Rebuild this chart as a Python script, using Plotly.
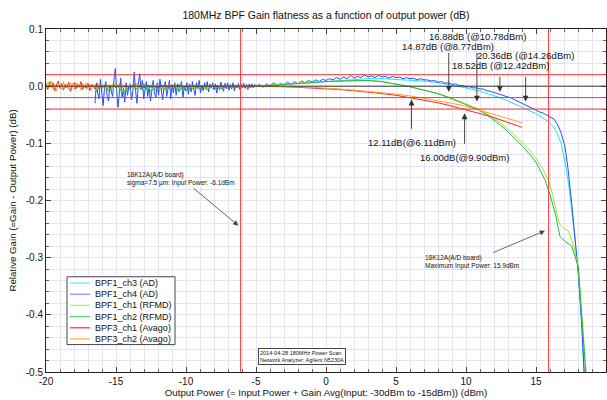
import numpy as np
import plotly.graph_objects as go

# ---------------- data ----------------
# BPF1_ch3 (AD) - cyan
cyan_noise_y = [-0.012, 0.004, -0.010, 0.006, -0.014, -0.002, 0.005, -0.008, 0.003, -0.010,
                0.002, -0.006, 0.004, -0.008, 0.001, -0.005, 0.003, -0.006, 0.002, -0.004,
                0.002, -0.003, 0.001, -0.001]
cyan_x = [-4, -3, -2, -1, 0, 1, 2, 3, 4, 5, 6, 7, 8, 9, 10, 11, 12, 12.42, 13, 14, 14.26,
          15, 15.5, 15.9, 16.2, 16.5, 16.8, 17.0, 17.2, 17.4, 17.6, 17.8, 18.02, 18.26, 18.43, 18.5]
cyan_y = [0.002, 0.003, 0.005, 0.006, 0.008, 0.010, 0.012, 0.013, 0.013, 0.012, 0.011, 0.009,
          0.006, 0.002, -0.003, -0.009, -0.016, -0.020, -0.026, -0.036, -0.040, -0.048, -0.055,
          -0.062, -0.070, -0.082, -0.100, -0.122, -0.150, -0.185, -0.225, -0.270, -0.327, -0.414,
          -0.500, -0.530]

# BPF1_ch4 (AD) - blue
blue_noise_y = [-0.030, 0.004, -0.012, -0.022, 0.012, -0.008, -0.034, -0.004, 0.008, -0.018,
                -0.026, 0.002, -0.010, -0.018, 0.010, 0.031, -0.006, -0.037, -0.012, 0.014,
                -0.020, -0.004, -0.028, 0.006, -0.016, -0.002, 0.004, -0.024, -0.010, 0.025,
                -0.008, -0.030, 0.002, 0.022, -0.006, 0.010, -0.022, -0.010, 0.008, -0.018,
                0.000, -0.026, -0.004, 0.010, -0.012, -0.020, 0.006, -0.016, 0.012, -0.008,
                -0.024, -0.002, 0.008, -0.018, -0.004, 0.010, -0.022, 0.002, -0.012, 0.006,
                -0.016, 0.004, -0.010, -0.002, 0.008, -0.020, 0.000, -0.008, 0.006, -0.014,
                0.004, -0.010, 0.008, -0.006, -0.016, 0.006, -0.004, 0.010, -0.012, 0.002,
                -0.008, 0.006, -0.004, 0.008, -0.010, 0.004, -0.002, 0.006, -0.006, 0.004,
                -0.012, 0.002, -0.006, 0.007, -0.003, -0.009, 0.005, -0.004, 0.006, -0.007,
                0.003, -0.005, 0.006, -0.008, 0.002, -0.003, 0.005, -0.006, 0.004, -0.002,
                0.005, -0.004, 0.003, -0.006, 0.004, -0.002, 0.004, -0.003, 0.003, 0.000]
blue_mid_y = [0.003, -0.002, 0.004, 0.000, 0.006, 0.001, 0.005, 0.002, 0.007, 0.003,
              0.008, 0.004, 0.009, 0.006, 0.010, 0.007, 0.011, 0.008, 0.012, 0.010,
              0.013, 0.011, 0.015, 0.012, 0.016, 0.013, 0.019, 0.014, 0.017, 0.015,
              0.020, 0.016, 0.018, 0.015, 0.019, 0.016, 0.017, 0.014, 0.017, 0.015,
              0.016, 0.013, 0.015, 0.013, 0.014, 0.011, 0.013, 0.011, 0.011, 0.009,
              0.010, 0.007, 0.008, 0.005, 0.006, 0.003, 0.004, 0.001, 0.001, -0.001]
blue_knee_y = [-0.001, -0.003, -0.003, -0.005, -0.005, -0.008, -0.009, -0.011, -0.012, -0.015,
               -0.016, -0.019, -0.021, -0.024, -0.027, -0.030, -0.034, -0.037, -0.040, -0.042,
               -0.045, -0.047, -0.050, -0.053]
blue_tail_x = [16.3, 16.6, 16.8, 17.07, 17.3, 17.55, 17.8, 18.02, 18.26, 18.43, 18.5]
blue_tail_y = [-0.058, -0.070, -0.082, -0.106, -0.147, -0.205, -0.270, -0.327, -0.414, -0.500, -0.530]

# BPF1_ch1 (RFMD) - yellow green
yg_noise_y = [-0.008, 0.003, -0.006, 0.004, -0.010, 0.001, -0.004, 0.005, -0.007, 0.002,
              -0.005, 0.003, -0.006, 0.001, -0.004, 0.002, -0.005, 0.002, -0.003, 0.001,
              -0.002, 0.002, -0.001, 0.000]
yg_x = [-4, -3, -2, -1, 0, 1, 2, 3, 4, 5, 6, 7, 8, 8.77, 9.5, 10, 10.78, 11.5, 12, 12.5, 13,
        13.5, 14, 14.5, 15, 15.5, 15.88, 16.2, 16.48, 16.71, 17.0, 17.31, 17.67, 18.02, 18.3, 18.58]
yg_y = [0.002, 0.004, 0.005, 0.007, 0.008, 0.009, 0.010, 0.010, 0.008, 0.004, -0.001, -0.007,
        -0.013, -0.019, -0.026, -0.031, -0.039, -0.048, -0.056, -0.065, -0.075, -0.086, -0.098,
        -0.111, -0.126, -0.145, -0.164, -0.190, -0.222, -0.242, -0.249, -0.253, -0.278, -0.316,
        -0.410, -0.500]

# BPF1_ch2 (RFMD) - green
green_noise_y = [-0.010, 0.002, -0.007, 0.003, -0.012, 0.000, -0.005, 0.004, -0.009, 0.001,
                 -0.006, 0.002, -0.008, 0.000, -0.005, 0.001, -0.006, 0.001, -0.004, 0.000,
                 -0.003, 0.001, -0.002, 0.000]
green_x = [-4, -3, -2, -1, 0, 1, 2, 3, 4, 5, 6, 7, 8, 8.77, 9.5, 10, 10.78, 11.5, 12, 12.5, 13,
           13.5, 14, 14.5, 15, 15.64, 16.0, 16.4, 16.71, 17.1, 17.55, 18.02, 18.3, 18.55]
green_y = [0.001, 0.003, 0.005, 0.006, 0.008, 0.009, 0.010, 0.010, 0.008, 0.004, -0.001, -0.007,
           -0.013, -0.020, -0.027, -0.032, -0.040, -0.050, -0.059, -0.069, -0.080, -0.092,
           -0.104, -0.118, -0.133, -0.164, -0.190, -0.225, -0.263, -0.272, -0.280, -0.316,
           -0.410, -0.500]

# BPF3_ch1 (Avago) - red
red_noise_a = [0.004, -0.006, 0.008, -0.002, 0.006, -0.008, 0.002, 0.009, -0.004, 0.005,
               -0.007, 0.003, -0.003, 0.007, -0.009, 0.001, 0.006, -0.005, 0.004, -0.002,
               0.008, -0.006, 0.002, -0.004, 0.005, -0.008, 0.003, 0.000, -0.005, 0.006,
               -0.003, 0.002, -0.004]
red_noise_b = [0.003, -0.004, 0.002, -0.003, 0.004, -0.002, 0.001, -0.004, 0.003, -0.001,
               0.002, -0.003, 0.002, -0.002, 0.001, -0.003, 0.002, 0.000, -0.002, 0.002,
               -0.001, 0.001, -0.002, 0.001, 0.000, -0.001, 0.002, -0.001, 0.000, 0.001,
               -0.001, 0.000, 0.001, -0.001, 0.000, 0.001, 0.000, -0.001, 0.000, 0.000,
               0.000, -0.001, 0.000, 0.000]
avago_x = [-4, -3, -2, -1, 0, 1, 2, 3, 4, 5, 6, 7, 8, 9, 10, 11, 12, 13, 14]
red_y = [-0.001, -0.001, -0.002, -0.003, -0.004, -0.006, -0.008, -0.010, -0.013, -0.016,
         -0.020, -0.024, -0.029, -0.035, -0.041, -0.048, -0.055, -0.063, -0.072]

# BPF3_ch2 (Avago) - orange
orange_noise_a = [-0.005, 0.007, -0.002, 0.009, -0.006, 0.003, -0.008, 0.005, 0.001, -0.006,
                  0.008, -0.003, 0.004, -0.007, 0.006, -0.001, -0.006, 0.007, -0.003, 0.004,
                  -0.007, 0.005, -0.002, 0.006, -0.004, 0.003, -0.006, 0.004, 0.001, -0.004,
                  0.005, -0.002, 0.003]
orange_noise_b = [-0.002, 0.003, -0.003, 0.002, -0.001, 0.003, -0.003, 0.002, -0.002, 0.003,
                  -0.002, 0.001, -0.003, 0.002, 0.000, 0.002, -0.002, 0.001, 0.002, -0.001,
                  0.001, -0.002, 0.001, 0.000, 0.001, -0.001, 0.000, 0.001, -0.001, 0.000,
                  0.001, -0.001, 0.000, 0.000, 0.001, 0.000, -0.001, 0.000, 0.000, 0.000,
                  0.000, 0.000, -0.001, 0.000]
orange_y = [-0.001, -0.001, -0.001, -0.002, -0.003, -0.005, -0.007, -0.009, -0.011, -0.014,
            -0.017, -0.021, -0.025, -0.030, -0.035, -0.042, -0.049, -0.056, -0.064]

series_names = ["BPF1_ch3 (AD)", "BPF1_ch4 (AD)", "BPF1_ch1 (RFMD)", "BPF1_ch2 (RFMD)",
                "BPF3_ch1 (Avago)", "BPF3_ch2 (Avago)"]
series_colors = ["#1ee3f2", "#2450ff", "#a6e81a", "#22b84a", "#ff2424", "#ffa31a"]
legend_colors = ["#7cf0fa", "#8ea6ff", "#c4f07a", "#6ccc8c", "#ff5050", "#ffc060"]

# reference lines and annotation values
red_hlines = [0.02, -0.02, -0.04]
black_hlines = [0.0]
red_vlines = [-6.1, 15.9]

gain_top_text = ["16.88dB (@10.78dBm)", "14.87dB (@8.77dBm)", "20.36dB (@14.26dBm)", "18.52dB (@12.42dBm)"]
gain_top_x = [10.78, 8.77, 14.26, 12.42]
gain_top_tip = [-0.027, -0.010, -0.027, -0.010]
gain_bot_text = ["12.11dB(@6.11dBm)", "16.00dB(@9.90dBm)"]
gain_bot_x = [6.11, 9.90]
gain_bot_tip = [-0.0235, -0.0475]

# ---------------- assemble series ----------------
def seg(a, b, vals):
    return list(np.linspace(a, b, len(vals)))

traces = [
    (seg(-16.5, -5, cyan_noise_y) + cyan_x, cyan_noise_y + cyan_y),
    (seg(-16.5, -5, blue_noise_y) + seg(-4.75, 10, blue_mid_y) + seg(10.25, 16, blue_knee_y) + blue_tail_x,
     blue_noise_y + blue_mid_y + blue_knee_y + blue_tail_y),
    (seg(-16.5, -5, yg_noise_y) + yg_x, yg_noise_y + yg_y),
    (seg(-16.5, -5, green_noise_y) + green_x, green_noise_y + green_y),
    (seg(-20, -16, red_noise_a) + seg(-15.75, -5, red_noise_b) + avago_x,
     red_noise_a + red_noise_b + red_y),
    (seg(-20, -16, orange_noise_a) + seg(-15.75, -5, orange_noise_b) + avago_x,
     orange_noise_a + orange_noise_b + orange_y),
]

# ---------------- geometry helpers ----------------
W, H = 607, 400
L, R, T, B = 46.0, 606.0, 28.5, 372.5
YMIN, YMAX = -0.5, 0.1


def fx(p):
    return (p - L) / (R - L)


def fy(p):
    return (B - p) / (B - T)


def data_py(y):
    return B - (y - YMIN) / (YMAX - YMIN) * (B - T)


FONT = "Liberation Sans, Arial, Helvetica, sans-serif"
GRID = "#e4e4f7"

fig = go.Figure()
for (x, y), name, col in zip(traces, series_names, series_colors):
    fig.add_trace(go.Scatter(x=x, y=y, mode="lines", name=name,
                             line=dict(color=col, width=1), showlegend=False))

shapes = []
for v in red_hlines:
    shapes.append(dict(type="line", xref="paper", x0=0, x1=1, yref="y", y0=v, y1=v,
                       line=dict(color="#ff3333", width=1)))
for v in black_hlines:
    shapes.append(dict(type="line", xref="paper", x0=0, x1=1, yref="y", y0=v, y1=v,
                       line=dict(color="#333333", width=1)))
for v in red_vlines:
    shapes.append(dict(type="line", yref="paper", y0=0, y1=1, xref="x", x0=v, x1=v,
                       line=dict(color="#ff3333", width=1)))

# legend box (drawn manually for compact MATLAB-like spacing)
lg_x0, lg_x1, lg_y0, lg_y1 = 67, 175, 277, 345
shapes.append(dict(type="rect", xref="paper", yref="paper", x0=fx(lg_x0), x1=fx(lg_x1),
                   y0=fy(lg_y1), y1=fy(lg_y0), fillcolor="white",
                   line=dict(color="#444444", width=1), layer="above"))
annotations = []
for i, (name, col) in enumerate(zip(series_names, legend_colors)):
    yy = 283.3 + i * 11.2
    shapes.append(dict(type="line", xref="paper", yref="paper", x0=fx(70), x1=fx(90),
                       y0=fy(yy), y1=fy(yy), line=dict(color=col, width=1.5), layer="above"))
    annotations.append(dict(xref="paper", yref="paper", x=fx(93), y=fy(yy), text=name,
                            showarrow=False, xanchor="left", yanchor="middle",
                            font=dict(size=9, color="#111", family=FONT)))

# gain point labels + arrows
top_label_pos = [(477.5, 36), (448, 46), (525.5, 55), (500, 65)]
top_tail_py = [51, 51, 75, 75]
for txt, (lx, ly), gx, tip, tail in zip(gain_top_text, top_label_pos, gain_top_x, gain_top_tip, top_tail_py):
    annotations.append(dict(xref="paper", yref="paper", x=fx(lx), y=fy(ly), text=txt,
                            showarrow=False, xanchor="center", yanchor="middle",
                            font=dict(size=9.5, color="#111", family=FONT)))
    annotations.append(dict(xref="x", yref="y", x=gx, y=tip, text="", showarrow=True,
                            ax=0, ay=tail - data_py(tip), arrowhead=2, arrowsize=1.3,
                            arrowwidth=0.9, arrowcolor="#333", standoff=0))
bot_label_pos = [(411.7, 142), (464, 157)]
bot_tail_py = [130, 145]
for txt, (lx, ly), gx, tip, tail in zip(gain_bot_text, bot_label_pos, gain_bot_x, gain_bot_tip, bot_tail_py):
    annotations.append(dict(xref="paper", yref="paper", x=fx(lx), y=fy(ly), text=txt,
                            showarrow=False, xanchor="center", yanchor="middle",
                            font=dict(size=9.5, color="#111", family=FONT)))
    annotations.append(dict(xref="x", yref="y", x=gx, y=tip, text="", showarrow=True,
                            ax=0, ay=tail - data_py(tip), arrowhead=2, arrowsize=1.3,
                            arrowwidth=0.9, arrowcolor="#333", standoff=0))

# board annotations
note1_tip = (-6.26, -0.244)
note2_tip = (15.64, -0.253)
annotations.append(dict(xref="paper", yref="paper", x=fx(125), y=fy(179),
                        text="18K12A(A/D board)<br>sigma=7.5 µm: Input Power: -6.1dBm",
                        showarrow=False, xanchor="left", yanchor="middle", align="left",
                        font=dict(size=6.5, color="#111", family=FONT)))
annotations.append(dict(xref="x", yref="y", x=note1_tip[0], y=note1_tip[1], text="", showarrow=True,
                        ax=192 - (L + (note1_tip[0] + 20) * 14), ay=187 - data_py(note1_tip[1]),
                        arrowhead=2, arrowsize=1.3, arrowwidth=0.8, arrowcolor="#444", standoff=0))
annotations.append(dict(xref="paper", yref="paper", x=fx(423), y=fy(262),
                        text="18K12A(A/D board)<br>Maximum Input Power: 15.9dBm",
                        showarrow=False, xanchor="left", yanchor="middle", align="left",
                        font=dict(size=6.5, color="#111", family=FONT)))
annotations.append(dict(xref="x", yref="y", x=note2_tip[0], y=note2_tip[1], text="", showarrow=True,
                        ax=491.7 - (L + (note2_tip[0] + 20) * 14), ay=253.3 - data_py(note2_tip[1]),
                        arrowhead=2, arrowsize=1.3, arrowwidth=0.8, arrowcolor="#444", standoff=0))
annotations.append(dict(xref="paper", yref="paper", x=fx(257.5), y=fy(348.5),
                        text="2014-04-28 180MHz Power Scan<br>Network Analyzer: Agilent N5230A",
                        showarrow=False, xanchor="left", yanchor="top", align="left",
                        bgcolor="white", bordercolor="#444", borderwidth=1, borderpad=1,
                        font=dict(size=5.5, color="#111", family=FONT)))

x_tick_vals = [-20, -15, -10, -5, 0, 5, 10, 15, 20]
x_tick_text = ["-20", "-15", "-10", "-5", "0", "5", "10", "15", "20"]
y_tick_vals = [-0.5, -0.4, -0.3, -0.2, -0.1, 0.0, 0.1]
y_tick_text = ["-0.5", "-0.4", "-0.3", "-0.2", "-0.1", "0.0", "0.1"]

fig.update_layout(
    width=W, height=H,
    margin=dict(l=L, r=W - R, t=T, b=H - B, pad=0),
    paper_bgcolor="white", plot_bgcolor="white",
    font=dict(family=FONT, size=10, color="#111"),
    title=dict(text="180MHz BPF Gain flatness as a function of output power (dB)",
               x=0.5, xref="paper", xanchor="center", y=1 - 15 / H, yref="container",
               yanchor="middle", font=dict(size=10.5, family=FONT, color="#111")),
    showlegend=False,
    shapes=shapes,
    annotations=annotations,
)
fig.update_xaxes(range=[-20, 20], tickmode="array", tickvals=x_tick_vals, ticktext=x_tick_text,
                 ticks="inside", ticklen=5, tickcolor="#444", showline=True, linecolor="#222",
                 linewidth=1, mirror="allticks", showgrid=True, gridcolor=GRID, gridwidth=1,
                 zeroline=False, automargin=False,
                 minor=dict(tickmode="linear", tick0=-20, dtick=1, ticks="inside", ticklen=3,
                            tickcolor="#666", showgrid=True, gridcolor=GRID, gridwidth=1),
                 title=dict(text="Output Power (= Input Power + Gain Avg(Input: -30dBm to -15dBm)) (dBm)",
                            standoff=1, font=dict(size=9.7, family=FONT)))
fig.update_yaxes(range=[YMIN, YMAX], tickmode="array", tickvals=y_tick_vals, ticktext=y_tick_text,
                 ticks="inside", ticklen=5, tickcolor="#444", showline=True, linecolor="#222",
                 linewidth=1, mirror="allticks", showgrid=True, gridcolor=GRID, gridwidth=1,
                 zeroline=False, automargin=False,
                 minor=dict(tickmode="linear", tick0=0, dtick=0.02, ticks="inside", ticklen=3,
                            tickcolor="#666", showgrid=True, gridcolor=GRID, gridwidth=1),
                 title=dict(text="Relative Gain (=Gain - Output Power) (dB)",
                            standoff=7, font=dict(size=9.7, family=FONT)))

# remove the default 8px page margin so the figure sits at the window's top-left corner
fig.write_html("out.html", config={"displayModeBar": False},
               post_script="document.body.style.margin='0';")
